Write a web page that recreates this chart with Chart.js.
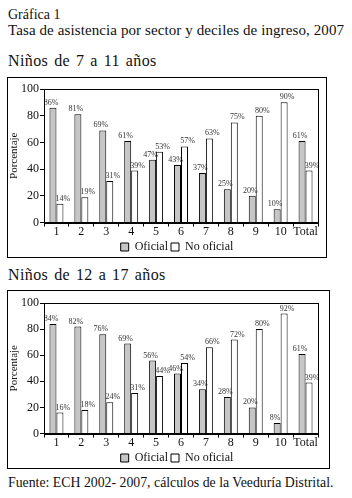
<!DOCTYPE html>
<html>
<head>
<meta charset="utf-8">
<script src="https://cdn.jsdelivr.net/npm/chart.js@4.4.1/dist/chart.umd.min.js"></script>
<style>
  html, body { margin: 0; padding: 0; background: #fff; }
  body { width: 352px; height: 498px; position: relative; overflow: hidden;
         font-family: "Liberation Serif", serif; color: #111; }
  .txt { position: absolute; left: 8px; font-size: 15px; white-space: nowrap; line-height: 1; }
  .box { position: absolute; border: 1px solid #000; box-sizing: border-box; }
  canvas { position: absolute; }
</style>
</head>
<body>
<div class="txt" style="top:8px;font-size:14px;">Gráfica 1</div>
<div class="txt" style="top:23px;letter-spacing:0.1px;">Tasa de asistencia por sector y deciles de ingreso, 2007</div>
<div class="txt" style="top:53px;font-size:16px;letter-spacing:0.4px;word-spacing:1.5px;">Niños de 7 a 11 años</div>
<div class="box" style="left:7px;top:77px;width:320px;height:181px;"></div>
<canvas id="c1" width="318" height="185" style="left:8px;top:78px;"></canvas>
<div class="txt" style="top:267px;font-size:16px;letter-spacing:0.4px;word-spacing:1.5px;">Niños de 12 a 17 años</div>
<div class="box" style="left:7px;top:290px;width:323px;height:179px;"></div>
<canvas id="c2" width="321" height="183" style="left:8px;top:291px;"></canvas>
<div class="txt" style="top:476px;font-size:13.8px;">Fuente: ECH 2002- 2007, cálculos de la Veeduría Distrital.</div>

<script>
const categories = ['1', '2', '3', '4', '5', '6', '7', '8', '9', '10', 'Total'];
const seriesNames = ['Oficial', 'No oficial'];
const yTicks = [0, 20, 40, 60, 80, 100];

const oficial7a11 = [86, 81, 69, 61, 47, 43, 37, 25, 20, 10, 61];
const noOficial7a11 = [14, 19, 31, 39, 53, 57, 63, 75, 80, 90, 39];

const oficial12a17 = [84, 82, 76, 69, 56, 46, 34, 28, 20, 8, 61];
const noOficial12a17 = [16, 18, 24, 31, 44, 54, 66, 72, 80, 92, 39];

const FONT = '"Liberation Serif", serif';

const frameAndLabels = {
  id: 'frameAndLabels',
  afterLayout(chart) {
    const lg = chart.legend;
    if (lg) { lg.left += 14; lg.right += 14; }
  },
  afterDatasetsDraw(chart) {
    const ctx = chart.ctx;
    ctx.save();
    ctx.font = '8px ' + FONT;
    ctx.fillStyle = '#333';
    ctx.textBaseline = 'bottom';
    ctx.textAlign = 'center';
    chart.data.datasets.forEach((ds, di) => {
      const meta = chart.getDatasetMeta(di);
      meta.data.forEach((bar, i) => {
        const dx = di === 0 ? -2 : 3;
        ctx.fillText(ds.data[i] + '%', bar.x + dx, bar.y - 1);
      });
    });
    ctx.restore();
  },
  afterDraw(chart) {
    const a = chart.chartArea;
    const ctx = chart.ctx;
    ctx.save();
    ctx.strokeStyle = '#000';
    ctx.lineWidth = 1;
    ctx.strokeRect(Math.round(a.left) + 0.5, Math.round(a.top) + 0.5,
                   Math.round(a.right - a.left), Math.round(a.bottom - a.top));
    ctx.restore();
  }
};

function makeChart(id, oficial, noOficial, pad) {
  return new Chart(document.getElementById(id), {
    type: 'bar',
    data: {
      labels: categories,
      datasets: [
        { label: seriesNames[0], data: oficial, backgroundColor: '#c6c6c6',
          borderColor: '#000', borderWidth: 1, categoryPercentage: 0.56, barPercentage: 1 },
        { label: seriesNames[1], data: noOficial, backgroundColor: '#fff',
          borderColor: '#000', borderWidth: 1, categoryPercentage: 0.56, barPercentage: 1 }
      ]
    },
    options: {
      responsive: false,
      animation: false,
      events: [],
      layout: { padding: { top: pad.top, right: pad.right, left: 0, bottom: 0 } },
      plugins: {
        tooltip: { enabled: false },
        legend: {
          position: 'bottom',
          labels: {
            font: { family: FONT, size: 12 },
            color: '#111',
            boxWidth: 8, boxHeight: 8,
            padding: 3
          }
        }
      },
      scales: {
        x: {
          grid: { display: true, drawOnChartArea: false, drawTicks: true, tickLength: 4,
                  color: '#000', offset: true },
          border: { color: '#000', width: 1 },
          ticks: { font: { family: FONT, size: 12 }, color: '#111', padding: -2, maxRotation: 0,
                   autoSkip: false },
          afterFit(s) { s.height = pad.xh; }
        },
        y: {
          min: 0, max: 100,
          afterBuildTicks(s) { s.ticks = yTicks.map(v => ({ value: v })); },
          grid: { display: true, drawOnChartArea: false, drawTicks: true, tickLength: 4, color: '#000' },
          border: { color: '#000', width: 1 },
          ticks: { font: { family: FONT, size: 12 }, color: '#111', padding: 1 },
          title: { display: true, text: 'Porcentaje', font: { family: FONT, size: 11 }, color: '#111',
                   padding: { top: 0, bottom: 3 } },
          afterFit(s) { s.width = pad.yw; }
        }
      }
    },
    plugins: [frameAndLabels]
  });
}

makeChart('c1', oficial7a11, noOficial7a11, { top: 11, right: 8, xh: 15.5, yw: 36 });
makeChart('c2', oficial12a17, noOficial12a17, { top: 12, right: 11, xh: 15.5, yw: 36 });
</script>
</body>
</html>
